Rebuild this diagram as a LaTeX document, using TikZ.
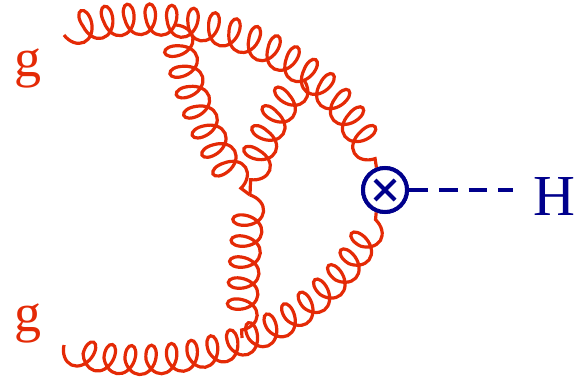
\documentclass[tikz,border=0pt]{standalone}
\usepackage{fontspec}
\setmainfont{Liberation Serif}
\usetikzlibrary{decorations.pathmorphing}
\definecolor{gluonred}{RGB}{228,42,6}
\definecolor{higgsblue}{RGB}{0,0,140}
\begin{document}
\begin{tikzpicture}[x=1pt,y=-1pt,
  gluon/.style={draw=gluonred, line width=3.2pt, decorate,
    decoration={coil, amplitude=15pt, segment length=21pt, aspect=0.66}},
  gluonm/.style={gluon, decoration={mirror}},
  vtx/.style={circle, draw=higgsblue, fill=white, line width=4pt,
    minimum size=44pt, inner sep=0pt},
  xmark/.style={draw=higgsblue, line width=4pt},
  higgs/.style={draw=higgsblue, line width=3.2pt, dash pattern=on 18.75pt off 11pt},
  glab/.style={text=gluonred, font=\fontsize{54}{54}\selectfont, inner sep=0pt, anchor=base},
  hlab/.style={text=higgsblue, font=\fontsize{58}{58}\selectfont, inner sep=0pt, anchor=base west}]
\useasboundingbox (0,0) rectangle (577,377);
\coordinate (g1s) at (64,35);
\coordinate (g2s) at (64,345);
\coordinate (ta) at (176,25);
\coordinate (tb) at (304,80);
\coordinate (J) at (250,195);
\coordinate (bc) at (242,338);
\coordinate (hend) at (513,190);
\node[vtx] (V) at (385,190) {};
% internal gluons
\draw[gluon] (ta) .. controls (185,90) and (215,160) .. (J);
\draw[gluon] (tb) .. controls (280,105) and (258,140) .. (J);
\draw[gluon] (J) .. controls (246,240) and (242,290) .. (bc);
% external gluons
\draw[gluonm] (g1s) .. controls (140,0) and (320,20) .. (V);
\draw[gluonm] (g2s) .. controls (140,380) and (320,355) .. (V);
% vertex on top
\node[vtx] (V2) at (V) {};
\draw[xmark] ([shift={(-10,-10)}]V2.center) -- ([shift={(10,10)}]V2.center);
\draw[xmark] ([shift={(-10,10)}]V2.center) -- ([shift={(10,-10)}]V2.center);
\draw[higgs] (V2) -- (hend);
\node[glab] (gt) at (28,77) {g};
\node[glab] (gb) at (28,331) {g};
\node[hlab] (H) at (533,215) {H};
\end{tikzpicture}
\end{document}
